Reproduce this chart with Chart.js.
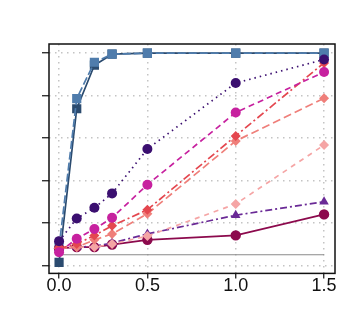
<!DOCTYPE html>
<html>
<head>
<meta charset="utf-8">
<script src="https://cdn.jsdelivr.net/npm/chart.js@4/dist/chart.umd.min.js"></script>
<style>
  html, body { margin: 0; padding: 0; background: #fff; }
  #wrap { width: 360px; height: 327px; }
</style>
</head>
<body>
<div id="wrap"><canvas id="c"></canvas></div>
<script>
const effectSizes = [0, 0.1, 0.2, 0.3, 0.5, 1.0, 1.5];
const xTicks = [0, 0.5, 1.0, 1.5];
const yTicks = [0, 0.2, 0.4, 0.6, 0.8, 1.0];
const alphaLevel = 0.05;

const darkPurple = [0.114, 0.221, 0.271, 0.339, 0.548, 0.859, 0.97];
const magenta = [0.062, 0.125, 0.171, 0.224, 0.38, 0.72, 0.911];
const red = [0.08, 0.1, 0.141, 0.186, 0.262, 0.61, 0.954];
const salmon = [0.08, 0.086, 0.12, 0.148, 0.243, 0.586, 0.787];
const pink = [0.08, 0.086, 0.086, 0.1, 0.138, 0.289, 0.567];
const violet = [0.08, 0.086, 0.09, 0.105, 0.148, 0.236, 0.3];
const crimson = [0.08, 0.086, 0.086, 0.098, 0.12, 0.141, 0.24];
const steel = [0.086, 0.786, 0.957, 0.995, 1.0, 1.0, 1.0];
const navy = [0.014, 0.738, 0.943, 0.995, 1.0, 1.0, 1.0];

const pts = (ys) => effectSizes.map((x, i) => ({ x, y: ys[i] }));

function series(data, color, style, radius, dash) {
  return {
    data: pts(data),
    borderColor: color,
    backgroundColor: color,
    pointStyle: style,
    pointRadius: radius,
    pointBorderWidth: 0,
    borderWidth: 1.7,
    borderDash: dash,
    tension: 0,
  };
}

const boxPlugin = {
  id: 'box',
  afterDraw(chart) {
    const { ctx, chartArea: a } = chart;
    ctx.save();
    ctx.strokeStyle = '#111';
    ctx.lineWidth = 1.5;
    ctx.strokeRect(a.left, a.top, a.right - a.left, a.bottom - a.top);
    ctx.restore();
  },
};

const gridOpts = (len) => ({
  color: '#c4c4c4',
  lineWidth: 1.5,
  tickLength: len,
  tickColor: '#111',
  tickWidth: 1.2,
  tickBorderDash: [],
});

new Chart(document.getElementById('c'), {
  type: 'line',
  data: {
    datasets: [
      series(darkPurple, '#3b0f70', 'circle', 5, [1.5, 4]),
      series(magenta, '#c7219f', 'circle', 5, [6, 4]),
      series(red, '#e4474f', 'rectRot', 5, [8, 3, 2, 3]),
      series(salmon, '#ef7f7a', 'rectRot', 5, [8, 4]),
      series(pink, '#f5a5a5', 'rectRot', 5, [5, 5]),
      series(violet, '#6a2a96', 'triangle', 5.5, [7, 3, 2, 3]),
      series(crimson, '#8c0a4d', 'circle', 5.2, []),
      series(steel, '#4f7cac', 'rect', 6.5, [8, 3]),
      series(navy, '#2b4b6f', 'rect', 6.5, []),
      {
        data: [{ x: effectSizes[0], y: alphaLevel }, { x: effectSizes[effectSizes.length - 1], y: alphaLevel }],
        borderColor: '#8a8a8a',
        borderWidth: 1.2,
        pointRadius: 0,
      },
    ],
  },
  options: {
    responsive: true,
    maintainAspectRatio: false,
    animation: false,
    layout: { padding: { left: 42, top: 44, right: 25, bottom: 33 } },
    plugins: { legend: { display: false }, tooltip: { enabled: false } },
    scales: {
      x: {
        type: 'linear',
        min: -0.057,
        max: 1.562,
        afterBuildTicks: (s) => { s.ticks = xTicks.map((v) => ({ value: v })); },
        border: { display: false, dash: [1.5, 4.5] },
        grid: gridOpts(5),
        ticks: {
          color: '#111',
          padding: -3,
          maxRotation: 0,
          font: { family: 'Liberation Sans', size: 18 },
          callback: (v) => Number(v).toFixed(1),
        },
      },
      y: {
        type: 'linear',
        min: -0.038,
        max: 1.043,
        afterBuildTicks: (s) => { s.ticks = yTicks.map((v) => ({ value: v })); },
        border: { display: false, dash: [1.5, 4.5] },
        grid: gridOpts(7),
        ticks: { display: false },
      },
    },
  },
  plugins: [boxPlugin],
});
</script>
</body>
</html>
